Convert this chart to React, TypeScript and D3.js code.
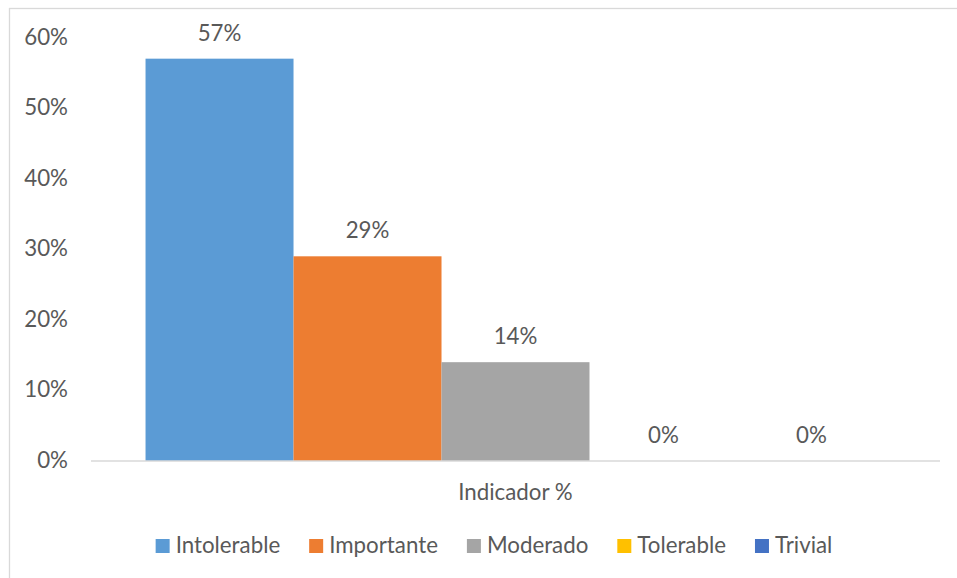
import React from "react";
import * as d3 from "d3";

const categories = ["Indicador %"];
const seriesNames = ["Intolerable", "Importante", "Moderado", "Tolerable", "Trivial"];
const seriesValues = [0.57, 0.29, 0.14, 0, 0];
const seriesColors = ["#5B9BD5", "#ED7D31", "#A5A5A5", "#FFC000", "#4472C4"];
const yTicks = [0, 0.1, 0.2, 0.3, 0.4, 0.5, 0.6];

const W = 957;
const H = 578;
const FONT = "Lato, 'Open Sans', sans-serif";
const TEXT = "#595959";
const FS = 22.3;

function measure(text: string, size: number): number {
  const c = document.createElement("canvas").getContext("2d");
  if (!c) return text.length * size * 0.5;
  c.font = `${size}px Lato`;
  return c.measureText(text).width;
}

export default function App() {
  const plot = { left: 91, right: 940, top: 37.5, bottom: 461 };
  const x0 = d3.scaleBand<string>().domain(categories).range([plot.left, plot.right]);
  const gap = 0.737;
  const bw = x0.bandwidth() / (seriesNames.length + gap);
  const x1 = d3
    .scaleBand<string>()
    .domain(seriesNames)
    .range([x0(categories[0])! + (bw * gap) / 2, x0(categories[0])! + x0.bandwidth() - (bw * gap) / 2]);
  const y = d3.scaleLinear().domain([0, 0.6]).range([plot.bottom, plot.top]);
  const pct = d3.format(".0%");

  // legend layout
  const sq = 14;
  const sqGap = 6;
  const itemGap = 29;
  const widths = seriesNames.map((n) => measure(n, FS));
  const itemWidths = widths.map((w) => sq + sqGap + w);
  const total = d3.sum(itemWidths) + itemGap * (seriesNames.length - 1);
  const legendCenter = 494;
  let cursor = legendCenter - total / 2;
  const legendX = itemWidths.map((w) => {
    const s = cursor;
    cursor += w + itemGap;
    return s;
  });

  return (
    <svg
      width={W}
      height={H}
      style={{ position: "absolute", left: 0, top: 0, background: "#fff" }}
      fontFamily={FONT}
    >
      <rect x={9.5} y={8.5} width={W + 10} height={H + 10} fill="#fff" stroke="#D9D9D9" strokeWidth={1.3} />
      {yTicks.map((t) => (
        <text key={t} x={68} y={y(t) + 7} textAnchor="end" fontSize={FS} fill={TEXT}>
          {pct(t)}
        </text>
      ))}
      {seriesNames.map((n, i) => (
        <rect
          key={n}
          x={x1(n)!}
          y={y(seriesValues[i])}
          width={x1.bandwidth()}
          height={plot.bottom - y(seriesValues[i])}
          fill={seriesColors[i]}
        />
      ))}
      <line x1={plot.left} x2={plot.right} y1={plot.bottom} y2={plot.bottom} stroke="#D9D9D9" strokeWidth={1.5} />
      {seriesNames.map((n, i) => (
        <text
          key={n}
          x={x1(n)! + x1.bandwidth() / 2}
          y={y(seriesValues[i]) - 18}
          textAnchor="middle"
          fontSize={FS}
          fill={TEXT}
        >
          {pct(seriesValues[i])}
        </text>
      ))}
      {categories.map((c) => (
        <text key={c} x={x0(c)! + x0.bandwidth() / 2} y={500} textAnchor="middle" fontSize={FS} fill={TEXT}>
          {c}
        </text>
      ))}
      {seriesNames.map((n, i) => (
        <g key={n} transform={`translate(${legendX[i]},0)`}>
          <rect x={0} y={539} width={sq} height={sq} fill={seriesColors[i]} />
          <text x={sq + sqGap} y={553} fontSize={FS} fill={TEXT}>
            {n}
          </text>
        </g>
      ))}
    </svg>
  );
}
